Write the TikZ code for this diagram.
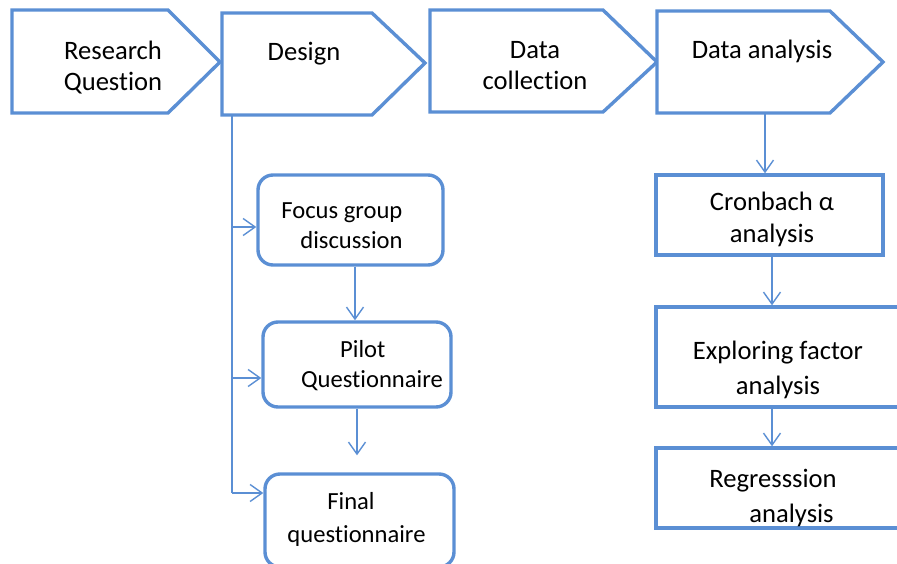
\documentclass[tikz,border=0pt]{standalone}
\usepackage{fontspec}
\setmainfont{Carlito}[Ligatures=NoCommon]
\usetikzlibrary{arrows.meta}
\definecolor{flowblue}{RGB}{91,143,212}
\tikzset{
  stage/.style={draw=flowblue, line width=3.4pt, line join=miter, fill=white},
  box/.style={draw=flowblue, line width=3.4pt, fill=white, rectangle, inner sep=0pt},
  roundbox/.style={box, rounded corners=15pt},
  lbl/.style={font=\fontsize{26.6}{31}\selectfont, align=center, inner sep=0pt, text=black},
  small/.style={font=\fontsize{24.6}{30}\selectfont},
  wide/.style={font=\fontsize{26.6}{35}\selectfont},
  conn/.style={draw=flowblue, line width=1.4pt},
  arr/.style={conn, -{Straight Barb[length=12pt,width=17pt]}},
}
\begin{document}
\begin{tikzpicture}[x=1pt, y=-1pt]
\useasboundingbox (0,0) rectangle (897,564);
\clip (0,0) rectangle (897,564);

% stage arrows along the top
\draw[stage] (12,10) -- (168,10) -- (220,62) -- (168,113) -- (12,113) -- cycle;
\draw[stage] (222,13) -- (372,13) -- (425,63) -- (372,115) -- (222,115) -- cycle;
\draw[stage] (430,10) -- (603,10) -- (657,62) -- (603,112) -- (430,112) -- cycle;
\draw[stage] (657,11) -- (830,11) -- (883,62) -- (830,113) -- (657,113) -- cycle;

\node[lbl] (rq) at (113,67.5) {Research\\Question};
\node[lbl] (dsg) at (304,53.5) {Design};
\node[lbl] (dc) at (535,65.5) {Data\\collection};
\node[lbl] (da) at (762,51.5) {Data analysis};

\coordinate (dsgfoot) at (232,115);
\coordinate (dafoot) at (765,113);

% design branch
\node[roundbox, minimum width=185pt, minimum height=90pt] (focus) at (350.5,220) {};
\node[roundbox, minimum width=188pt, minimum height=85pt] (pilot) at (357,364.5) {};
\node[roundbox, minimum width=189pt, minimum height=93pt] (final) at (359.5,520.5) {};

\node[lbl, small, align=left] (focust) at (342,226) {Focus group\\\hspace*{19pt}discussion};
\node[lbl, small, align=left] (pilott) at (372,366) {\hspace*{39pt}Pilot\\Questionnaire};
\node[lbl, small, font=\fontsize{24.6}{33}\selectfont] (finalt) at (356.5,519.5) {Final\hspace*{11pt}\\questionnaire};

\draw[conn] (dsgfoot) -- ([yshift=27.5pt]dsgfoot |- final.west);
\draw[arr] ([yshift=-7pt]dsgfoot |- focus.west) -- ([yshift=-7pt]focus.west);
\draw[arr] ([yshift=-13.5pt]dsgfoot |- pilot.west) -- ([yshift=-13.5pt]pilot.west);
\draw[arr] ([yshift=27.5pt]dsgfoot |- final.west) -- ([yshift=27.5pt]final.west);

\draw[arr] ([xshift=4.5pt]focus.south) -- ([xshift=4.5pt]focus.south |- pilot.north);
\draw[arr] (pilot.south) -- ([yshift=17pt]pilot.south |- final.north);

% analysis branch
\node[box, minimum width=227pt, minimum height=80pt] (cron) at (769.5,215) {};
\node[box, minimum width=254pt, minimum height=100pt] (efa) at (783,357) {};
\node[box, minimum width=254pt, minimum height=80pt] (reg) at (783,488) {};

\node[lbl, font=\fontsize{26.6}{32}\selectfont] (cront) at (772,219) {Cronbach α\\analysis};
\node[lbl, wide] (efat) at (778,370) {Exploring factor\\analysis};
\node[lbl, wide, align=left] (regt) at (773,498) {Regresssion\\\hspace*{40pt}analysis};

\draw[arr] (dafoot) -- (dafoot |- cron.north);
\draw[arr] ([xshift=2.5pt]cron.south) -- ([xshift=2.5pt]cron.south |- efa.north);
\draw[arr] ([xshift=-11pt]efa.south) -- ([xshift=-11pt]efa.south |- reg.north);
\end{tikzpicture}
\end{document}
